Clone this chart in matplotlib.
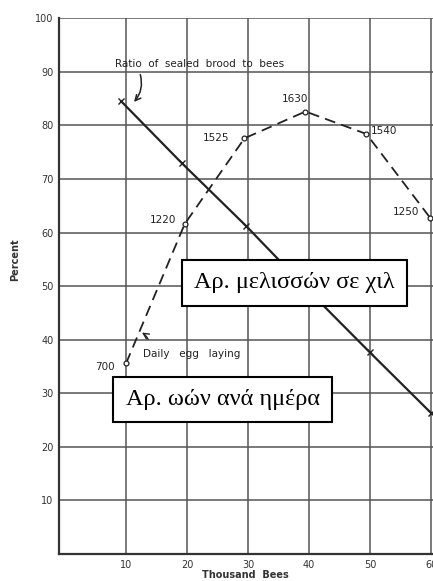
import matplotlib.pyplot as plt

# solid line: ratio of sealed brood to bees (percent)
ratio_x = [9.2, 19.1, 29.7, 39.6, 49.9, 60.0]
ratio_y = [84.5, 73.0, 61.2, 49.5, 37.7, 26.3]

# dashed curve: daily egg laying, plotted as percent
egg_x = [10.0, 19.6, 29.4, 39.4, 49.4, 59.8]
egg_y = [35.6, 61.6, 77.6, 82.6, 78.4, 62.8]
egg_labels = ['700', '1220', '1525', '1630', '1540', '1250']

x_ticks = [10, 20, 30, 40, 50, 60]
y_ticks = [10, 20, 30, 40, 50, 60, 70, 80, 90, 100]

fig = plt.figure(figsize=(4.33, 5.81), dpi=100)
ax = fig.add_axes([59 / 433, 1 - 554 / 581, 1 - 59 / 433, (554 - 18.3) / 581])
ax.set_xlim(-1, 60.3)
ax.set_ylim(0, 100)

ax.set_xticks(x_ticks)
ax.set_yticks(y_ticks)
ax.tick_params(length=0, labelsize=7, colors='#333333', pad=4)
ax.grid(True, color='#555555', lw=1.1)
ax.set_axisbelow(True)
for s in ['top', 'right']:
    ax.spines[s].set_visible(False)
for s in ['left', 'bottom']:
    ax.spines[s].set_linewidth(1.6)
    ax.spines[s].set_color('#333333')

ax.plot(ratio_x, ratio_y, color='#222222', lw=1.6, marker='x', ms=5, mew=1, zorder=3)
ax.plot(egg_x, egg_y, color='#222222', lw=1.3, ls=(0, (6, 3.5)), marker='o',
        ms=3.5, mfc='white', mew=0.9, zorder=3)

# value labels next to the egg points
offsets = [(-22, -3), (-25, 3), (-30, 0), (-17, 9), (3, 2), (-27, 4)]
for x, y, t, (dx, dy) in zip(egg_x, egg_y, egg_labels, offsets):
    ax.annotate(t, (x, y), xytext=(dx, dy), textcoords='offset points',
                fontsize=7.5, color='#222222', va='center')

ax.text(8.2, 90.6, 'Ratio  of  sealed  brood  to  bees', fontsize=7.5,
        color='#222222', va='bottom')
ax.annotate('', xy=(11.0, 84.0), xytext=(12.2, 90.0),
            arrowprops=dict(arrowstyle='->', color='#222222', lw=1.1,
                            connectionstyle='arc3,rad=-0.3'))

ax.text(12.8, 37.4, 'Daily   egg   laying', fontsize=7.5, color='#222222', va='center')
ax.annotate('', xy=(12.2, 41.6), xytext=(13.8, 39.6),
            arrowprops=dict(arrowstyle='->', color='#222222', lw=1.0,
                            connectionstyle='arc3,rad=0.2'))

box = dict(boxstyle='square,pad=0.5', fc='white', ec='black', lw=1.5)
ax.text(37.6, 50.6, 'Αρ. μελισσών σε χιλ', fontsize=17.5, family='Liberation Serif',
        ha='center', va='center', bbox=box, zorder=5)
ax.text(25.8, 28.8, 'Αρ. ωών ανά ημέρα', fontsize=17.5, family='Liberation Serif',
        ha='center', va='center', bbox=box, zorder=5)

fig.text(15 / 433, 1 - 260 / 581, 'Percent', rotation=90, fontsize=7,
         fontweight='bold', color='#333333', ha='center', va='center')
fig.text(245 / 433, 1 - 575 / 581, 'Thousand  Bees', fontsize=7,
         fontweight='bold', color='#333333', ha='center', va='center')

fig.savefig('out.png', dpi=100)
